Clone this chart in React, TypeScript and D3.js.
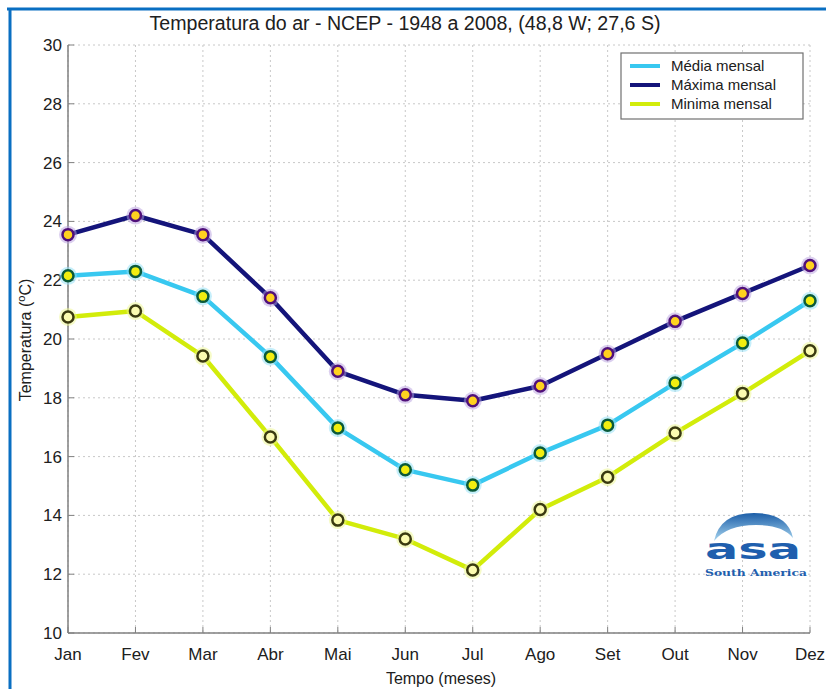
import React from "react";
import * as d3 from "d3";

const months = ["Jan", "Fev", "Mar", "Abr", "Mai", "Jun", "Jul", "Ago", "Set", "Out", "Nov", "Dez"];
const media = [22.15, 22.3, 21.45, 19.4, 16.97, 15.55, 15.03, 16.12, 17.07, 18.5, 19.86, 21.3];
const maxima = [23.55, 24.2, 23.55, 21.4, 18.9, 18.1, 17.9, 18.4, 19.5, 20.6, 21.55, 22.5];
const minima = [20.75, 20.95, 19.42, 16.67, 13.84, 13.2, 12.14, 14.2, 15.3, 16.8, 18.15, 19.6];
const yTicks = [10, 12, 14, 16, 18, 20, 22, 24, 26, 28, 30];
const legendLabels = ["Média mensal", "Máxima mensal", "Minima mensal"];

const W = 826;
const H = 689;
const FONT = "'Liberation Sans', Arial, sans-serif";

export default function App() {
  const x = d3.scalePoint<string>().domain(months).range([68, 810]);
  const y = d3.scaleLinear().domain([10, 30]).range([633, 45]);
  const line = d3
    .line<number>()
    .x((_, i) => x(months[i]) as number)
    .y((d) => y(d));

  const series = [
    { name: legendLabels[1], data: maxima, color: "#14147a", mFill: "#ffd21f", mStroke: "#50107a", halo: "#b8a0e0" },
    { name: legendLabels[0], data: media, color: "#38c8f0", mFill: "#f2ee10", mStroke: "#0a5a3a", halo: "#8ee0f8" },
    { name: legendLabels[2], data: minima, color: "#d2ec0a", mFill: "#fbfbb0", mStroke: "#3a3a10", halo: "#eef890" },
  ];
  const legendColors = ["#38c8f0", "#14147a", "#d2ec0a"];

  return (
    <svg
      width={W}
      height={H}
      style={{ position: "absolute", left: 0, top: 0, background: "#fff" }}
      fontFamily={FONT}
    >
      <rect x={0} y={0} width={W} height={H} fill="#fff" />
      {/* blue frame */}
      <line x1={7} x2={W} y1={9} y2={9} stroke="#0a6fc2" strokeWidth={3} />
      <line x1={10} x2={10} y1={8} y2={H} stroke="#0a6fc2" strokeWidth={3} />

      {/* grid */}
      {yTicks.map((t) => (
        <line key={"gy" + t} x1={68} x2={810} y1={y(t)} y2={y(t)} stroke="#c8c8c8" strokeWidth={1} strokeDasharray="2,3" />
      ))}
      {months.map((m) => (
        <line key={"gx" + m} x1={x(m)} x2={x(m)} y1={45} y2={633} stroke="#c8c8c8" strokeWidth={1} strokeDasharray="2,3" />
      ))}

      {/* axes */}
      <line x1={68} x2={68} y1={45} y2={633} stroke="#808080" strokeWidth={1.5} />
      <line x1={68} x2={810} y1={633} y2={633} stroke="#808080" strokeWidth={1.5} />
      {yTicks.map((t) => (
        <g key={"ty" + t}>
          <line x1={68} x2={74} y1={y(t)} y2={y(t)} stroke="#808080" />
          <text x={62} y={y(t) + 6} textAnchor="end" fontSize={17} fill="#202020">
            {t}
          </text>
        </g>
      ))}
      {months.map((m) => (
        <g key={"tx" + m}>
          <line x1={x(m)} x2={x(m)} y1={633} y2={627} stroke="#808080" />
          <text x={x(m)} y={660} textAnchor="middle" fontSize={17} fill="#202020">
            {m}
          </text>
        </g>
      ))}

      {/* labels */}
      <text x={405} y={30} textAnchor="middle" fontSize={20} fill="#202020" textLength={511} lengthAdjust="spacingAndGlyphs">
        Temperatura do ar  - NCEP - 1948 a 2008, (48,8 W; 27,6 S)
      </text>
      <text x={441} y={684} textAnchor="middle" fontSize={16} fill="#202020">
        Tempo (meses)
      </text>
      <text transform="translate(31,340) rotate(-90)" textAnchor="middle" fontSize={16} fill="#202020">
        Temperatura (<tspan fontSize={11} dy={-6}>o</tspan>
        <tspan dy={6}>C)</tspan>
      </text>

      {/* series */}
      {series.map((s) => (
        <g key={s.name}>
          <path d={line(s.data) || ""} fill="none" stroke={s.color} strokeWidth={4.5} strokeLinejoin="round" />
          {s.data.map((v, i) => (
            <g key={i}>
              <circle cx={x(months[i])} cy={y(v)} r={9} fill={s.halo} opacity={0.5} />
              <circle cx={x(months[i])} cy={y(v)} r={5.5} fill={s.mFill} stroke={s.mStroke} strokeWidth={2.5} />
            </g>
          ))}
        </g>
      ))}

      {/* legend */}
      <rect x={621} y={53} width={182} height={66} fill="#fff" stroke="#707070" strokeWidth={1.2} />
      {legendLabels.map((l, i) => (
        <g key={l}>
          <line x1={630} x2={660} y1={66 + i * 19} y2={66 + i * 19} stroke={legendColors[i]} strokeWidth={4} />
          <text x={671} y={71 + i * 19} fontSize={15} fill="#202020">
            {l}
          </text>
        </g>
      ))}

      {/* logo */}
      <defs>
        <linearGradient id="arcg" x1="0" y1="0" x2="0" y2="1">
          <stop offset="0%" stopColor="#1c5ea8" />
          <stop offset="100%" stopColor="#a8d6f0" />
        </linearGradient>
      </defs>
      <path d="M714,541 Q720,513 754,513 Q788,513 793,538 Q783,525 756,525 Q727,525 714,541 Z" fill="url(#arcg)" />
      <text x={753} y={559} textAnchor="middle" fontSize={29} fontWeight="bold" fill="#1f5fae" fontFamily="'DejaVu Sans', sans-serif" textLength={96} lengthAdjust="spacingAndGlyphs">
        asa
      </text>
      <text x={756} y={576} textAnchor="middle" fontSize={9} fontWeight="bold" fill="#1f5fae" fontFamily="'DejaVu Serif', serif" textLength={102} lengthAdjust="spacingAndGlyphs">
        South America
      </text>
    </svg>
  );
}
